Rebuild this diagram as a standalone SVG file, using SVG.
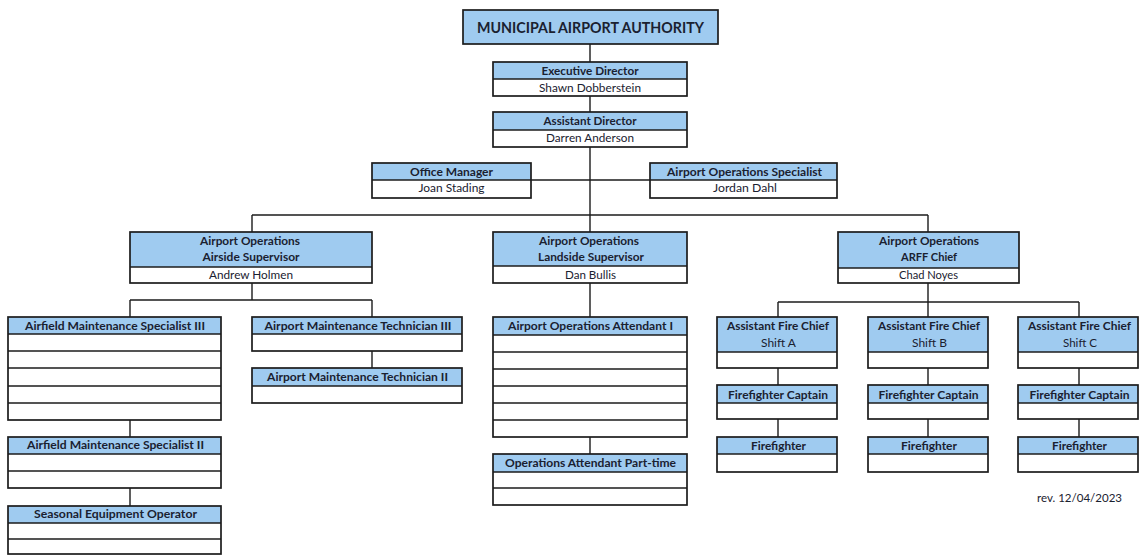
<svg xmlns="http://www.w3.org/2000/svg" width="1140" height="556" viewBox="0 0 1140 556">
<style>
.bg{fill:#ffffff}
.hd{fill:#9fcbf0}
.bd{fill:none;stroke:#1c1c1c;stroke-width:1.7}
.sp{stroke:#1c1c1c;stroke-width:1.4}
.cn{stroke:#1c1c1c;stroke-width:1.4;fill:none}
text{font-family:Lato,"Open Sans","Liberation Sans",sans-serif;fill:#1a2130;text-anchor:middle}
.t{font-size:11.5px;font-weight:700}
.n{font-size:11px;font-weight:400}
.ttl{font-size:15px;font-weight:700}
</style>
<rect x="0" y="0" width="1140" height="556" fill="#ffffff"/>
<g id="connectors">
<path class="cn" d="M590,44V62 M590,96V112 M590,147V232 M531,180H650 M252,215H928 M252,215V232 M928,215V232"/>
<path class="cn" d="M252,283V300 M130,300H372 M130,300V317 M372,300V317 M372,351V368 M130,420V437 M130,488V506"/>
<path class="cn" d="M590,283V317 M590,437V454"/>
<path class="cn" d="M928,283V302 M778,302H1079 M778,302V317 M928,302V317 M1079,302V317 M778,368V385 M778,419V437 M928,368V385 M928,419V437 M1079,368V385 M1079,419V437"/>
</g>
<g id="title">
<rect class="hd" x="463" y="10" width="255" height="34"/>
<rect class="bd" x="463" y="10" width="255" height="34"/>
<text class="ttl" x="590.5" y="33" textLength="227" lengthAdjust="spacingAndGlyphs">MUNICIPAL AIRPORT AUTHORITY</text>
</g>
<g id="executive-director">
<rect class="bg" x="493" y="62" width="194" height="34"/>
<rect class="hd" x="493" y="62" width="194" height="17"/>
<line class="sp" x1="493" y1="79" x2="687" y2="79"/>
<rect class="bd" x="493" y="62" width="194" height="34"/>
<text class="t" x="590" y="75" textLength="97" lengthAdjust="spacingAndGlyphs">Executive Director</text>
<text class="n" x="590" y="92" textLength="102" lengthAdjust="spacingAndGlyphs">Shawn Dobberstein</text>
</g>
<g id="assistant-director">
<rect class="bg" x="493" y="112" width="194" height="35"/>
<rect class="hd" x="493" y="112" width="194" height="18"/>
<line class="sp" x1="493" y1="130" x2="687" y2="130"/>
<rect class="bd" x="493" y="112" width="194" height="35"/>
<text class="t" x="590" y="125" textLength="93" lengthAdjust="spacingAndGlyphs">Assistant Director</text>
<text class="n" x="590" y="142" textLength="88" lengthAdjust="spacingAndGlyphs">Darren Anderson</text>
</g>
<g id="office-manager">
<rect class="bg" x="372" y="163" width="159" height="35"/>
<rect class="hd" x="372" y="163" width="159" height="17"/>
<line class="sp" x1="372" y1="180" x2="531" y2="180"/>
<rect class="bd" x="372" y="163" width="159" height="35"/>
<text class="t" x="451.5" y="176" textLength="83" lengthAdjust="spacingAndGlyphs">Office Manager</text>
<text class="n" x="451.5" y="192" textLength="66" lengthAdjust="spacingAndGlyphs">Joan Stading</text>
</g>
<g id="ops-specialist">
<rect class="bg" x="650" y="163" width="187" height="35"/>
<rect class="hd" x="650" y="163" width="187" height="17"/>
<line class="sp" x1="650" y1="180" x2="837" y2="180"/>
<rect class="bd" x="650" y="163" width="187" height="35"/>
<text class="t" x="744.5" y="176" textLength="155" lengthAdjust="spacingAndGlyphs">Airport Operations Specialist</text>
<text class="n" x="745" y="192" textLength="64" lengthAdjust="spacingAndGlyphs">Jordan Dahl</text>
</g>
<g id="airside-supervisor">
<rect class="bg" x="130" y="232" width="242" height="51"/>
<rect class="hd" x="130" y="232" width="242" height="35"/>
<line class="sp" x1="130" y1="267" x2="372" y2="267"/>
<rect class="bd" x="130" y="232" width="242" height="51"/>
<text class="t" x="250" y="245" textLength="100" lengthAdjust="spacingAndGlyphs">Airport Operations</text>
<text class="t" x="251" y="261" textLength="97" lengthAdjust="spacingAndGlyphs">Airside Supervisor</text>
<text class="n" x="251" y="279" textLength="84" lengthAdjust="spacingAndGlyphs">Andrew Holmen</text>
</g>
<g id="landside-supervisor">
<rect class="bg" x="493" y="232" width="194" height="51"/>
<rect class="hd" x="493" y="232" width="194" height="34"/>
<line class="sp" x1="493" y1="266" x2="687" y2="266"/>
<rect class="bd" x="493" y="232" width="194" height="51"/>
<text class="t" x="589" y="245" textLength="100" lengthAdjust="spacingAndGlyphs">Airport Operations</text>
<text class="t" x="591" y="261" textLength="106" lengthAdjust="spacingAndGlyphs">Landside Supervisor</text>
<text class="n" x="590.5" y="279" textLength="51" lengthAdjust="spacingAndGlyphs">Dan Bullis</text>
</g>
<g id="arff-chief">
<rect class="bg" x="838" y="232" width="181" height="51"/>
<rect class="hd" x="838" y="232" width="181" height="36"/>
<line class="sp" x1="838" y1="268" x2="1019" y2="268"/>
<rect class="bd" x="838" y="232" width="181" height="51"/>
<text class="t" x="929" y="245" textLength="100" lengthAdjust="spacingAndGlyphs">Airport Operations</text>
<text class="t" x="929" y="261" textLength="56" lengthAdjust="spacingAndGlyphs">ARFF Chief</text>
<text class="n" x="928.5" y="279" textLength="59" lengthAdjust="spacingAndGlyphs">Chad Noyes</text>
</g>
<g id="specialist-iii">
<rect class="bg" x="8" y="317" width="213" height="103"/>
<rect class="hd" x="8" y="317" width="213" height="17"/>
<path class="sp" d="M8,334H221 M8,351H221 M8,368H221 M8,386H221 M8,403H221"/>
<rect class="bd" x="8" y="317" width="213" height="103"/>
<text class="t" x="115" y="330" textLength="180" lengthAdjust="spacingAndGlyphs">Airfield Maintenance Specialist III</text>
</g>
<g id="technician-iii">
<rect class="bg" x="252" y="317" width="210" height="34"/>
<rect class="hd" x="252" y="317" width="210" height="17"/>
<path class="sp" d="M252,334H462"/>
<rect class="bd" x="252" y="317" width="210" height="34"/>
<text class="t" x="358" y="330" textLength="187" lengthAdjust="spacingAndGlyphs">Airport Maintenance Technician III</text>
</g>
<g id="technician-ii">
<rect class="bg" x="252" y="368" width="210" height="35"/>
<rect class="hd" x="252" y="368" width="210" height="18"/>
<path class="sp" d="M252,386H462"/>
<rect class="bd" x="252" y="368" width="210" height="35"/>
<text class="t" x="357.5" y="381" textLength="181" lengthAdjust="spacingAndGlyphs">Airport Maintenance Technician II</text>
</g>
<g id="specialist-ii">
<rect class="bg" x="8" y="437" width="213" height="51"/>
<rect class="hd" x="8" y="437" width="213" height="17"/>
<path class="sp" d="M8,454H221 M8,471H221"/>
<rect class="bd" x="8" y="437" width="213" height="51"/>
<text class="t" x="115.5" y="449" textLength="177" lengthAdjust="spacingAndGlyphs">Airfield Maintenance Specialist II</text>
</g>
<g id="seasonal-operator">
<rect class="bg" x="8" y="506" width="213" height="48"/>
<rect class="hd" x="8" y="506" width="213" height="17"/>
<path class="sp" d="M8,523H221 M8,539H221"/>
<rect class="bd" x="8" y="506" width="213" height="48"/>
<text class="t" x="115.5" y="518" textLength="163" lengthAdjust="spacingAndGlyphs">Seasonal Equipment Operator</text>
</g>
<g id="attendant-i">
<rect class="bg" x="493" y="317" width="194" height="120"/>
<rect class="hd" x="493" y="317" width="194" height="18"/>
<path class="sp" d="M493,335H687 M493,352H687 M493,369H687 M493,386H687 M493,403H687 M493,420H687"/>
<rect class="bd" x="493" y="317" width="194" height="120"/>
<text class="t" x="590.5" y="330" textLength="165" lengthAdjust="spacingAndGlyphs">Airport Operations Attendant I</text>
</g>
<g id="attendant-part-time">
<rect class="bg" x="493" y="454" width="194" height="51"/>
<rect class="hd" x="493" y="454" width="194" height="18"/>
<path class="sp" d="M493,472H687 M493,488H687"/>
<rect class="bd" x="493" y="454" width="194" height="51"/>
<text class="t" x="590.5" y="467" textLength="171" lengthAdjust="spacingAndGlyphs">Operations Attendant Part-time</text>
</g>
<g id="fire-chief-a">
<rect class="bg" x="717" y="317" width="120" height="51"/>
<rect class="hd" x="717" y="317" width="120" height="35"/>
<path class="sp" d="M717,352H837"/>
<rect class="bd" x="717" y="317" width="120" height="51"/>
<text class="t" x="778" y="330" textLength="102" lengthAdjust="spacingAndGlyphs">Assistant Fire Chief</text>
<text class="n" x="778.5" y="347" textLength="35" lengthAdjust="spacingAndGlyphs">Shift A</text>
</g>
<g id="fire-chief-b">
<rect class="bg" x="868" y="317" width="120" height="51"/>
<rect class="hd" x="868" y="317" width="120" height="35"/>
<path class="sp" d="M868,352H988"/>
<rect class="bd" x="868" y="317" width="120" height="51"/>
<text class="t" x="929" y="330" textLength="102" lengthAdjust="spacingAndGlyphs">Assistant Fire Chief</text>
<text class="n" x="929.5" y="347" textLength="35" lengthAdjust="spacingAndGlyphs">Shift B</text>
</g>
<g id="fire-chief-c">
<rect class="bg" x="1018" y="317" width="120" height="51"/>
<rect class="hd" x="1018" y="317" width="120" height="35"/>
<path class="sp" d="M1018,352H1138"/>
<rect class="bd" x="1018" y="317" width="120" height="51"/>
<text class="t" x="1079.5" y="330" textLength="103" lengthAdjust="spacingAndGlyphs">Assistant Fire Chief</text>
<text class="n" x="1080" y="347" textLength="34" lengthAdjust="spacingAndGlyphs">Shift C</text>
</g>
<g id="captain-a">
<rect class="bg" x="717" y="385" width="120" height="34"/>
<rect class="hd" x="717" y="385" width="120" height="18"/>
<path class="sp" d="M717,403H837"/>
<rect class="bd" x="717" y="385" width="120" height="34"/>
<text class="t" x="778" y="399" textLength="100" lengthAdjust="spacingAndGlyphs">Firefighter Captain</text>
</g>
<g id="captain-b">
<rect class="bg" x="868" y="385" width="120" height="34"/>
<rect class="hd" x="868" y="385" width="120" height="18"/>
<path class="sp" d="M868,403H988"/>
<rect class="bd" x="868" y="385" width="120" height="34"/>
<text class="t" x="928.5" y="399" textLength="100" lengthAdjust="spacingAndGlyphs">Firefighter Captain</text>
</g>
<g id="captain-c">
<rect class="bg" x="1018" y="385" width="120" height="34"/>
<rect class="hd" x="1018" y="385" width="120" height="18"/>
<path class="sp" d="M1018,403H1138"/>
<rect class="bd" x="1018" y="385" width="120" height="34"/>
<text class="t" x="1079.5" y="399" textLength="100" lengthAdjust="spacingAndGlyphs">Firefighter Captain</text>
</g>
<g id="firefighter-a">
<rect class="bg" x="717" y="437" width="120" height="35"/>
<rect class="hd" x="717" y="437" width="120" height="17"/>
<path class="sp" d="M717,454H837"/>
<rect class="bd" x="717" y="437" width="120" height="35"/>
<text class="t" x="778.5" y="450" textLength="55" lengthAdjust="spacingAndGlyphs">Firefighter</text>
</g>
<g id="firefighter-b">
<rect class="bg" x="868" y="437" width="120" height="35"/>
<rect class="hd" x="868" y="437" width="120" height="17"/>
<path class="sp" d="M868,454H988"/>
<rect class="bd" x="868" y="437" width="120" height="35"/>
<text class="t" x="929" y="450" textLength="56" lengthAdjust="spacingAndGlyphs">Firefighter</text>
</g>
<g id="firefighter-c">
<rect class="bg" x="1018" y="437" width="120" height="35"/>
<rect class="hd" x="1018" y="437" width="120" height="17"/>
<path class="sp" d="M1018,454H1138"/>
<rect class="bd" x="1018" y="437" width="120" height="35"/>
<text class="t" x="1079.5" y="450" textLength="55" lengthAdjust="spacingAndGlyphs">Firefighter</text>
</g>
<text class="n" x="1079.5" y="502" textLength="85" lengthAdjust="spacingAndGlyphs">rev. 12/04/2023</text>
</svg>
